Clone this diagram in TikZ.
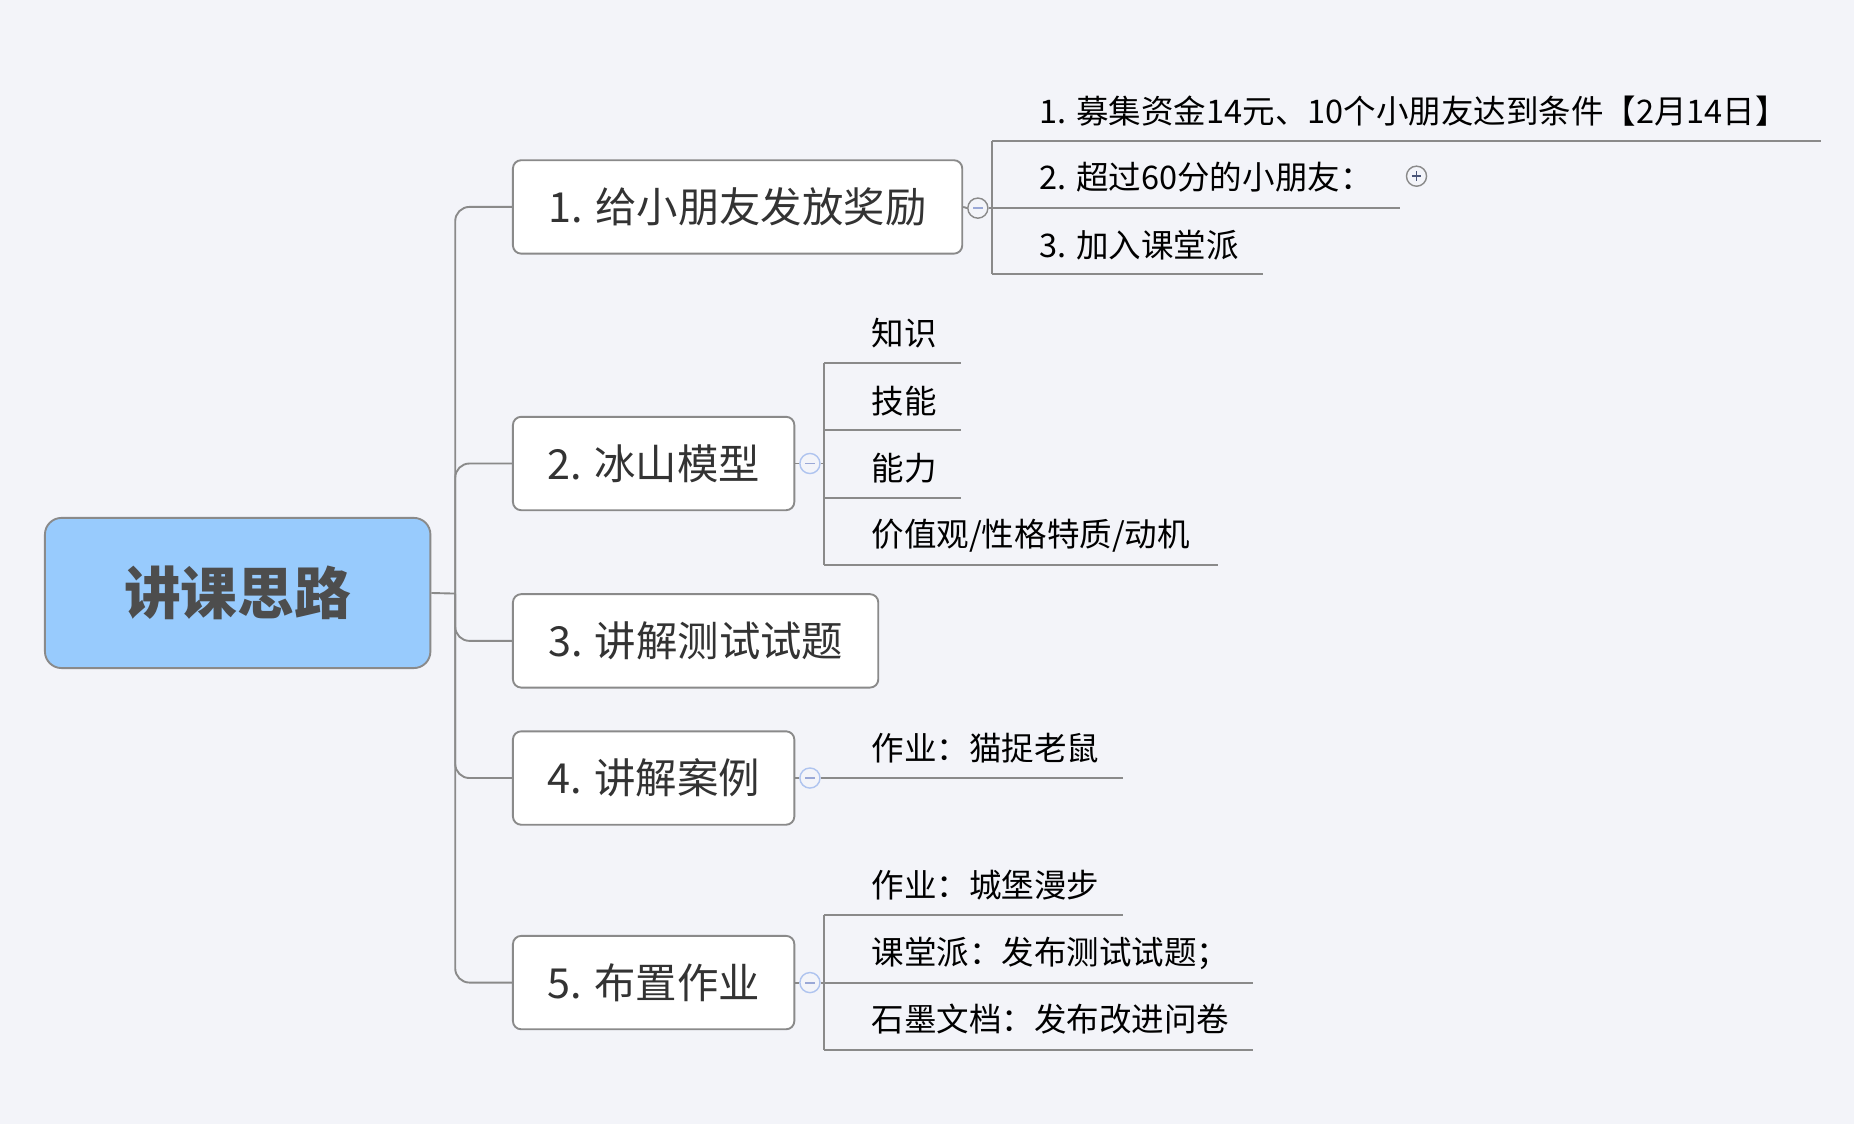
\documentclass[tikz,border=0pt]{standalone}
\usepackage{fontspec}
\setmainfont{Noto Sans CJK SC}
\usetikzlibrary{positioning}
\definecolor{bgcol}{HTML}{F3F4F9}
\definecolor{linegray}{HTML}{8A8A8A}
\definecolor{rootblue}{HTML}{98CBFD}
\definecolor{rootink}{HTML}{4D4D4D}
\definecolor{topicink}{HTML}{333333}
\definecolor{foldblue}{HTML}{AFC4EF}
\definecolor{signblue}{HTML}{9AA8D6}
\definecolor{plusink}{HTML}{4A5578}
\newcommand{\foldminus}{\textcolor{signblue}{\rule{8pt}{1.6pt}}}

\begin{document}
\begin{tikzpicture}[x=1pt,y=-1pt,
root/.style={draw=linegray,line width=1.6pt,rounded corners=14pt,fill=rootblue,minimum width=326pt,minimum height=127pt,font=\fontsize{48}{56}\selectfont\bfseries,text=rootink},
topic/.style={draw=linegray,line width=1.6pt,rounded corners=7pt,fill=white,minimum height=79pt,anchor=west,font=\fontsize{35}{42}\selectfont,text=topicink},
leaf/.style={anchor=west,inner sep=0pt,font=\fontsize{27.5}{32}\selectfont,text=black},
link/.style={draw=linegray,line width=1.6pt},
fold/.style={circle,draw=foldblue,line width=1.2pt,fill=bgcol,minimum size=17pt,inner sep=0pt,font=\tiny}]
\useasboundingbox[fill=bgcol] (0,0) rectangle (1568,951);

\node[root] (root) at (201,501.5) {讲课思路};
\node[topic,minimum width=380pt] (t1) at (433,175) {1. 给小朋友发放奖励};
\node[topic,minimum width=238pt] (t2) at (433,392) {2. 冰山模型};
\node[topic,minimum width=309pt] (t3) at (433,542) {3. 讲解测试试题};
\node[topic,minimum width=238pt] (t4) at (433,658) {4. 讲解案例};
\node[topic,minimum width=238pt] (t5) at (433,831) {5. 布置作业};

\coordinate (trunk) at (385,502);
\draw[link] (root.east) -- (trunk);
\foreach \t in {t1,t2,t3,t4,t5}
  \draw[link,rounded corners=12pt] (trunk) |- (\t.west);

% 1. rewards
\node[fold,draw=linegray] (f1) at (827,176) {\foldminus};
\coordinate (j1) at (839,176);
\draw[link] (t1.east) -- (f1.west);
\draw[link] (f1.east) -- (j1);
\node[leaf] (a1) at (879,94) {1. 募集资金14元、10个小朋友达到条件【2月14日】};
\node[leaf] (a2) at (879,150) {2. 超过60分的小朋友：};
\node[leaf] (a3) at (879,207) {3. 加入课堂派};
\coordinate (a1e) at (1540,119);
\coordinate (a2e) at (1184,176);
\coordinate (a3e) at (1068,232);
\foreach \e in {a1e,a2e,a3e} \draw[link] (j1 |- \e) -- (\e);
\draw[link] (j1 |- a1e) -- (j1 |- a3e);
\node[fold,draw=linegray] (p2) at (1198,149) {};
\draw[plusink,line width=1.3pt] ([xshift=-4pt]p2.center) -- ([xshift=4pt]p2.center);
\draw[plusink,line width=1.3pt] ([yshift=-4pt]p2.center) -- ([yshift=4pt]p2.center);

% 2. iceberg
\node[fold] (f2) at (685,392) {\foldminus};
\coordinate (j2) at (697,392);
\draw[link] (t2.east) -- (f2.west);
\draw[link] (f2.east) -- (j2);
\node[leaf] (b1) at (737,282) {知识};
\node[leaf] (b2) at (737,339) {技能};
\node[leaf] (b3) at (737,396) {能力};
\node[leaf] (b4) at (737,453) {价值观/性格特质/动机};
\coordinate (b1e) at (813,307);
\coordinate (b2e) at (813,364);
\coordinate (b3e) at (813,421);
\coordinate (b4e) at (1030,478);
\foreach \e in {b1e,b2e,b3e,b4e} \draw[link] (j2 |- \e) -- (\e);
\draw[link] (j2 |- b1e) -- (j2 |- b4e);

% 4. cases
\node[fold] (f4) at (685,658) {\foldminus};
\draw[link] (t4.east) -- (f4.west);
\node[leaf] (d1) at (737,633) {作业：猫捉老鼠};
\coordinate (d1e) at (950,658);
\draw[link] (f4.east) -- (d1e);

% 5. homework
\node[fold] (f5) at (685,831) {\foldminus};
\coordinate (j5) at (697,831);
\draw[link] (t5.east) -- (f5.west);
\draw[link] (f5.east) -- (j5);
\node[leaf] (e1) at (737,749) {作业：城堡漫步};
\node[leaf] (e2) at (737,806) {课堂派：发布测试试题；};
\node[leaf] (e3) at (737,862) {石墨文档：发布改进问卷};
\coordinate (e1e) at (950,774);
\coordinate (e2e) at (1060,831);
\coordinate (e3e) at (1060,888);
\foreach \e in {e1e,e2e,e3e} \draw[link] (j5 |- \e) -- (\e);
\draw[link] (j5 |- e1e) -- (j5 |- e3e);
\end{tikzpicture}
\end{document}
